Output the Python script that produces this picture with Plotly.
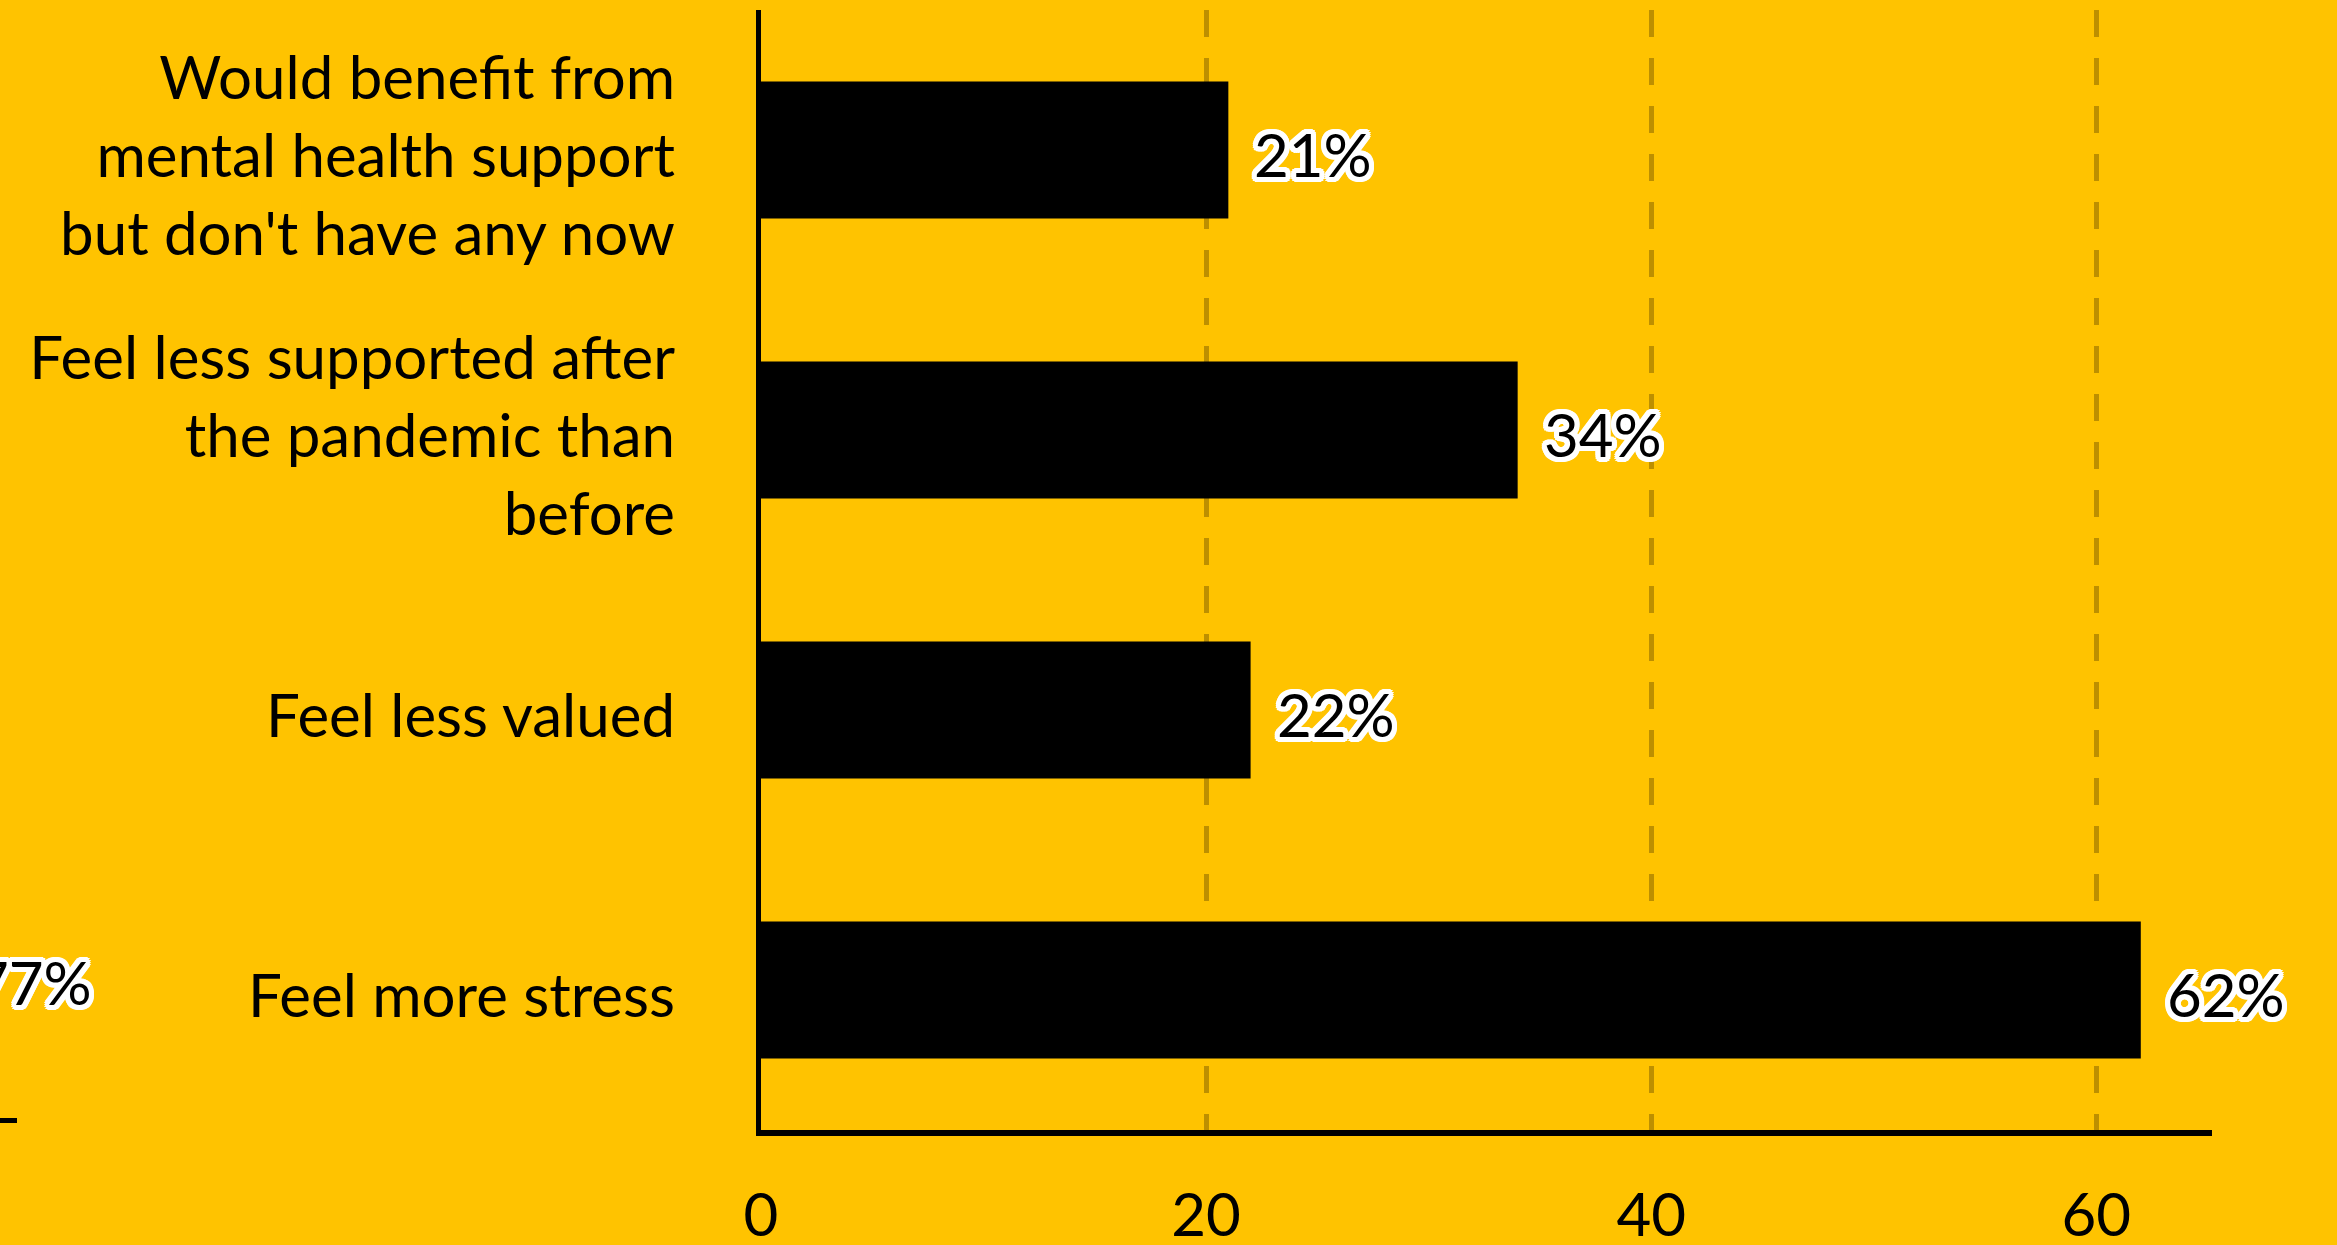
import plotly.graph_objects as go

# Survey results: share of respondents (%)
categories = [
    "Would benefit from<br>mental health support<br>but don't have any now",
    "Feel less supported after<br>the pandemic than<br>before",
    "Feel less valued",
    "Feel more stress",
]
values = [21, 34, 22, 62]
x_ticks = [0, 20, 40, 60]

# Edge of the neighbouring panel that peeks in from the left
neighbour_label = "77%"

BG = "#FFC300"
GRID = "#BD8F00"
FONT = "Lato"

# Plot-area geometry in pixels
W, H = 2337, 1245
L, R, T, B = 761, 125, 10, 115
PW, PH = W - L - R, H - T - B

halo = ", ".join(
    f"{dx}px {dy}px 0 #ffffff"
    for dx, dy in [(5, 0), (-5, 0), (0, 5), (0, -5), (4, 4), (-4, -4), (4, -4), (-4, 4),
                   (2, 5), (-2, 5), (2, -5), (-2, -5), (5, 2), (-5, 2), (5, -2), (-5, -2)]
)

fig = go.Figure(
    go.Bar(
        x=values,
        y=categories,
        orientation="h",
        width=0.49,
        marker=dict(color="#000000", line=dict(width=0)),
        hoverinfo="skip",
    )
)

# Percentage labels to the right of each bar
for v, c in zip(values, categories):
    fig.add_annotation(
        x=v, y=c, xref="x", yref="y",
        text=f"{v}%", showarrow=False,
        xanchor="left", yanchor="middle", xshift=24, yshift=-4,
        font=dict(family=FONT, size=60, color="#000000", shadow=halo),
    )

# Neighbouring panel fragment: its value label and axis stub
fig.add_annotation(
    x=(94 - L) / PW, y=(T + PH - 982) / PH, xref="paper", yref="paper",
    text=neighbour_label, showarrow=False,
    xanchor="right", yanchor="middle",
    font=dict(family=FONT, size=60, color="#000000", shadow=halo),
)
fig.add_shape(
    type="line", xref="paper", yref="paper",
    x0=(0 - L) / PW, x1=(17 - L) / PW,
    y0=(T + PH - 1120.5) / PH, y1=(T + PH - 1120.5) / PH,
    line=dict(color="#000000", width=5),
)

fig.update_layout(
    width=W, height=H,
    margin=dict(l=L, r=R, t=T, b=B, pad=0, autoexpand=False),
    paper_bgcolor=BG, plot_bgcolor=BG,
    showlegend=False,
    font=dict(family=FONT, color="#000000"),
    xaxis=dict(
        range=[0, 65.2],
        tickvals=x_ticks,
        ticktext=[str(t) for t in x_ticks],
        tickfont=dict(family=FONT, size=60, color="#000000"),
        showgrid=True, gridcolor=GRID, gridwidth=5, griddash="27px,21px",
        zeroline=False,
        showline=True, linecolor="#000000", linewidth=6,
        ticks="", ticklabelstandoff=28,
        automargin=False,
        fixedrange=True,
    ),
    yaxis=dict(
        categoryorder="array",
        categoryarray=categories[::-1],
        range=[-0.5, 3.5],
        tickfont=dict(family=FONT, size=60, color="#000000"),
        showgrid=False, zeroline=False,
        showline=True, linecolor="#000000", linewidth=5,
        ticks="", ticklabelstandoff=69, ticklabelshift=6,
        automargin=False,
        fixedrange=True,
    ),
)

fig.write_html("out.html", config={"displayModeBar": False})
